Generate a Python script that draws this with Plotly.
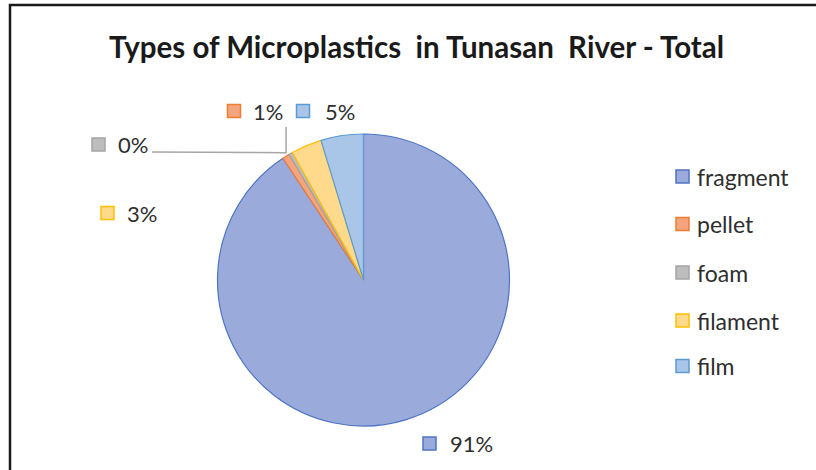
import math
import plotly.graph_objects as go

# Microplastic types found in Tunasan River (share of total count, %)
categories = ["fragment", "pellet", "foam", "filament", "film"]
shares = [90.7, 0.8, 0.4, 3.4, 4.7]

fill_colors = ["#9AABDB", "#F4A57E", "#BDBDBD", "#FFD98C", "#A9C6E9"]
edge_colors = ["#4F74C4", "#ED7D31", "#A5A5A5", "#FFC000", "#5B9BD5"]

W, H = 816, 470
FONT = "Lato"
TEXT_COLOR = "#2E2E2E"

# pie geometry in pixels
CX, CY, R = 363.5, 280.0, 146.0


def px(x):
    return x / W


def py(y):
    return 1 - y / H


fig = go.Figure()
fig.add_trace(go.Pie(
    labels=categories,
    values=shares,
    sort=False,
    direction="clockwise",
    rotation=0,
    textinfo="none",
    hoverinfo="label+percent",
    showlegend=False,
    marker=dict(colors=fill_colors, line=dict(color=edge_colors, width=1.2)),
    domain=dict(x=[px(CX - R), px(CX + R)], y=[py(CY + R), py(CY - R)]),
))

total = sum(shares)
pct_text = [f"{round(v / total * 100)}%" for v in shares]

shapes = []
annotations = []


def key_box(cx, cy, i, size=13):
    shapes.append(dict(
        type="rect", xref="paper", yref="paper",
        x0=px(cx - size / 2), x1=px(cx + size / 2),
        y0=py(cy + size / 2), y1=py(cy - size / 2),
        fillcolor=fill_colors[i], line=dict(color=edge_colors[i], width=1.5),
    ))


def text_at(x, y, s, size, anchor="left"):
    annotations.append(dict(
        x=px(x), y=py(y), xref="paper", yref="paper", text=s,
        showarrow=False, xanchor=anchor, yanchor="middle",
        font=dict(family=FONT, size=size, color=TEXT_COLOR),
    ))


# data labels: key box centre and text start for each slice
label_pos = {
    0: ((429.5, 443.5), 448),
    1: ((234, 111), 251),
    2: ((98.5, 144.5), 116),
    3: ((107.5, 213), 125),
    4: ((303, 111), 323),
}
for i, ((bx, by), tx) in label_pos.items():
    key_box(bx, by, i)
    text_at(tx, by, pct_text[i], 22)

# leader lines to the pellet/foam slices
cum = sum(shares[:1]) + (shares[1] + shares[2]) / 2
theta = math.radians(cum / total * 360)
ex = CX + (R + 3) * math.sin(theta)
ey = CY - (R + 3) * math.cos(theta)
line_style = dict(color="#A6A6A6", width=1.5)
shapes.append(dict(type="path", xref="paper", yref="paper",
                   path=f"M {px(152)},{py(152)} L {px(ex)},{py(ey)} L {px(ex)},{py(127)}",
                   line=line_style))

# legend
legend_y = [176.5, 224, 272.5, 320.5, 366]
for i, name in enumerate(categories):
    key_box(682.5, legend_y[i], i)
    text_at(695, legend_y[i], name, 23)

# chart border
shapes.append(dict(type="rect", xref="paper", yref="paper",
                   x0=px(10), x1=px(W + 20), y0=py(H + 20), y1=py(5),
                   line=dict(color="#1A1A1A", width=2.5), fillcolor="rgba(0,0,0,0)"))

annotations.append(dict(
    x=px(416), y=py(46), xref="paper", yref="paper",
    text="<b>Types of Microplastics  in Tunasan  River - Total</b>",
    showarrow=False, xanchor="center", yanchor="middle",
    font=dict(family=FONT, size=29.5, color="#1A1A1A"),
))

fig.update_layout(
    width=W, height=H,
    margin=dict(l=0, r=0, t=0, b=0),
    paper_bgcolor="white",
    plot_bgcolor="white",
    shapes=shapes,
    annotations=annotations,
)

fig.write_html("out.html")
